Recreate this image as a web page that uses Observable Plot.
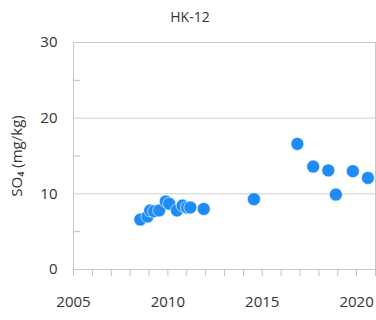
<!DOCTYPE html>
<html>
<head>
<meta charset="utf-8">
<script src="https://cdn.jsdelivr.net/npm/d3@7"></script>
<script src="https://cdn.jsdelivr.net/npm/@observablehq/plot@0.6"></script>
<style>
  html, body { margin: 0; padding: 0; background: #fff; }
  #wrap { position: relative; width: 376px; height: 320px; font-family: "Open Sans", sans-serif; }
  #title { position: absolute; left: 0; top: 7px; width: 380px; text-align: center; font-size: 14px; color: #333; }
</style>
</head>
<body>
<div id="wrap"><div id="title">HK-12</div></div>
<script>
const title = "HK-12";
const yLabel = "SO₄ (mg/kg)";
const years = [2008.54, 2008.92, 2009.06, 2009.27, 2009.54, 2009.89, 2010.07, 2010.48, 2010.78, 2011.01, 2011.19, 2011.9, 2014.56, 2016.86, 2017.7, 2018.5, 2018.9, 2019.8, 2020.6];
const so4 = [6.6, 7.0, 7.8, 7.7, 7.8, 9.0, 8.7, 7.8, 8.45, 8.2, 8.2, 8.0, 9.3, 16.6, 13.6, 13.1, 9.9, 13.0, 12.1];
const xTickLabels = [2005, 2010, 2015, 2020];
const xMinorTicks = d3.range(2005, 2022);
const yTickLabels = [0, 10, 20, 30];
const yMinorTicks = [5, 15, 25];
const yGrid = [10, 20];

const data = years.map((y, i) => ({year: y, value: so4[i]}));
document.getElementById("title").textContent = title;

const chart = Plot.plot({
  width: 376,
  height: 320,
  marginLeft: 73,
  marginRight: 1,
  marginTop: 42,
  marginBottom: 51,
  style: {fontFamily: "Open Sans, sans-serif", fontSize: "15px", color: "#333", background: "#fff"},
  x: {domain: [2005, 2021]},
  y: {domain: [0, 30]},
  marks: [
    Plot.gridY(yGrid, {stroke: "#d0d0d0", strokeOpacity: 1}),
    Plot.frame({stroke: "#c8c8c8"}),
    Plot.axisY(yMinorTicks, {tickSize: -7, text: null, stroke: "#c0c0c0", label: null}),
    Plot.axisY(yTickLabels, {tickSize: 0, tickPadding: 16, label: yLabel, labelAnchor: "center", labelOffset: 62, labelArrow: "none", tickFormat: d => d}),
    Plot.axisX(xMinorTicks, {tickSize: 7, text: null, stroke: "#c0c0c0", label: null}),
    Plot.axisX(xTickLabels, {tickSize: 0, tickPadding: 27, tickFormat: d => String(d), label: null}),
    Plot.dot(data, {x: "year", y: "value", r: 6.5, fill: "#1e8cf5", stroke: "#ffffff", strokeWidth: 0.6})
  ]
});
document.getElementById("wrap").appendChild(chart);
</script>
</body>
</html>
